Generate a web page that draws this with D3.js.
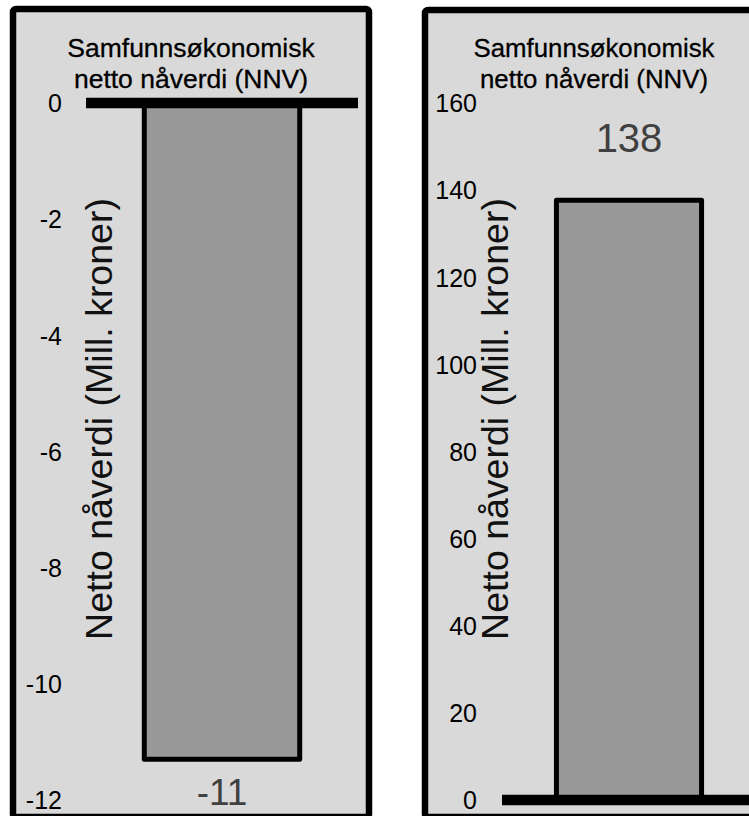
<!DOCTYPE html>
<html>
<head>
<meta charset="utf-8">
<script src="https://cdn.jsdelivr.net/npm/d3@7"></script>
<style>
  html, body { margin: 0; padding: 0; background: #ffffff; }
  svg { display: block; font-family: "Liberation Sans", Arial, sans-serif; }
</style>
</head>
<body>
<div id="chart"></div>
<script>
// Data
const categories = ["NNV"];
const titleLines = ["Samfunnsøkonomisk", "netto nåverdi (NNV)"];
const axisTitle = "Netto nåverdi (Mill. kroner)";

const leftValues = [-11.3];
const leftTicks = [0, -2, -4, -6, -8, -10, -12];

const rightValues = [137.7];
const rightTicks = [0, 20, 40, 60, 80, 100, 120, 140, 160];

const W = 749, H = 816;

// plain hyphen for negatives, like the original
const fmt = d => String(Math.round(d));

const svg = d3.select("#chart")
    .append("svg")
    .attr("width", W)
    .attr("height", H);

function drawPanel(cfg) {
    const g = svg.append("g");

    // panel frame
    g.append("rect")
        .attr("x", cfg.box[0])
        .attr("y", cfg.box[1])
        .attr("width", cfg.box[2])
        .attr("height", cfg.box[3])
        .attr("rx", 3)
        .attr("fill", "#d9d9d9")
        .attr("stroke", "#000")
        .attr("stroke-width", 6.5);

    // title, two lines
    g.append("text")
        .attr("text-anchor", "middle")
        .attr("font-size", cfg.titleSize)
        .attr("fill", "#000")
        .attr("stroke", "#000")
        .attr("stroke-width", 0.3)
        .selectAll("tspan")
        .data(titleLines)
        .join("tspan")
        .attr("x", cfg.titleX)
        .attr("y", (d, i) => 57 + i * 31)
        .text(d => d);

    const x = d3.scaleBand()
        .domain(categories)
        .range(cfg.xRange)
        .paddingInner(0)
        .paddingOuter(0.375);

    const y = d3.scaleLinear()
        .domain(cfg.domain)
        .range(cfg.yRange);

    // y axis (labels only)
    const axis = g.append("g")
        .attr("transform", `translate(${cfg.tickX},0)`)
        .call(d3.axisLeft(y).tickValues(cfg.ticks).tickSize(0).tickPadding(0).tickFormat(fmt));
    axis.select(".domain").remove();
    axis.selectAll("text")
        .attr("font-family", "Liberation Sans, Arial, sans-serif")
        .attr("font-size", 25)
        .attr("fill", "#000")
        .attr("dy", "0.35em");

    // axis title
    g.append("text")
        .attr("transform", `translate(${cfg.axisTitleX},419) rotate(-90)`)
        .attr("text-anchor", "middle")
        .attr("dominant-baseline", "central")
        .attr("font-size", 37.5)
        .attr("fill", "#111")
        .text(axisTitle);

    // bars
    g.selectAll("rect.bar")
        .data(cfg.values)
        .join("rect")
        .attr("class", "bar")
        .attr("x", (d, i) => x(categories[i]))
        .attr("width", x.bandwidth())
        .attr("y", d => y(Math.max(0, d)))
        .attr("height", d => Math.abs(y(d) - y(0)))
        .attr("fill", "#999999")
        .attr("stroke", "#000")
        .attr("stroke-width", 5)
        .attr("stroke-linejoin", "round");

    // zero line on top
    g.append("line")
        .attr("x1", cfg.xRange[0])
        .attr("x2", cfg.xRange[1])
        .attr("y1", y(0))
        .attr("y2", y(0))
        .attr("stroke", "#000")
        .attr("stroke-width", 10.5);

    // value labels
    g.selectAll("text.value")
        .data(cfg.values)
        .join("text")
        .attr("class", "value")
        .attr("x", (d, i) => x(categories[i]) + x.bandwidth() / 2)
        .attr("y", d => d < 0 ? y(d) + 46 : y(d) - 48)
        .attr("text-anchor", "middle")
        .attr("font-size", cfg.valueSize)
        .attr("fill", "#404040")
        .text(fmt);
}

drawPanel({
    box: [13, 9, 356, 808],
    titleX: 191,
    titleSize: 26.5,
    xRange: [86, 358],
    domain: [-12, 0],
    yRange: [800, 103],
    ticks: leftTicks,
    tickX: 62,
    axisTitleX: 99,
    values: leftValues,
    valueSize: 37
});

drawPanel({
    box: [425, 10, 360, 807],
    titleX: 594,
    titleSize: 25.8,
    xRange: [502, 756],
    domain: [0, 160],
    yRange: [800, 103],
    ticks: rightTicks,
    tickX: 477,
    axisTitleX: 495,
    values: rightValues,
    valueSize: 40
});
</script>
</body>
</html>
